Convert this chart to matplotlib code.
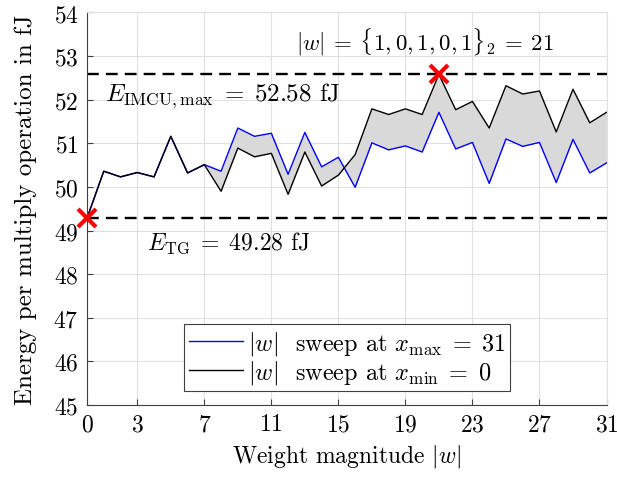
import matplotlib
matplotlib.use("Agg")
import matplotlib.pyplot as plt
import numpy as np

plt.rcParams["font.family"] = "serif"
plt.rcParams["font.serif"] = ["cmr10"]
plt.rcParams["mathtext.fontset"] = "cm"
plt.rcParams["axes.formatter.use_mathtext"] = True
plt.rcParams["font.size"] = 17

# weight magnitude |w|
w = list(range(32))
# energy per multiply at x_max = 31 (blue)
e_xmax = [49.28, 50.36, 50.23, 50.33, 50.23, 51.16, 50.32, 50.51,
          50.36, 51.35, 51.16, 51.23, 50.29, 51.25, 50.46, 50.68,
          49.99, 51.01, 50.85, 50.94, 50.80, 51.71, 50.87, 51.02,
          50.08, 51.10, 50.93, 51.02, 50.10, 51.09, 50.32, 50.55]
# energy per multiply at x_min = 0 (black)
e_xmin = [49.28, 50.36, 50.23, 50.33, 50.23, 51.16, 50.32, 50.51,
          49.90, 50.89, 50.69, 50.77, 49.83, 50.80, 50.02, 50.27,
          50.74, 51.79, 51.66, 51.79, 51.66, 52.58, 51.77, 51.96,
          51.35, 52.32, 52.13, 52.20, 51.26, 52.24, 51.47, 51.71]
e_max = 52.58
e_tg = 49.28
w_max = 21
xticks = [0, 3, 7, 11, 15, 19, 23, 27, 31]

fig = plt.figure(figsize=(6.17, 4.81), dpi=100)
ax = fig.add_axes([0.141, 0.156, 0.842, 0.816])

ax.grid(color="#e0e0e0", lw=0.8)
ax.set_axisbelow(True)
ax.fill_between(w, e_xmax, e_xmin, color="#d9d9d9", lw=0)
ax.plot(w, e_xmax, color="blue", lw=1.0,
        label=r"$|w|$  sweep at $x_{\max}\;=\;31$")
ax.plot(w, e_xmin, color="black", lw=1.0,
        label=r"$|w|$  sweep at $x_{\min}\;=\;0$")
ax.axhline(e_max, color="black", ls=(0, (5, 3)), lw=1.7)
ax.axhline(e_tg, color="black", ls=(0, (5, 3)), lw=1.7)
ax.plot([0, w_max], [e_tg, e_max], ls="none", marker="x", ms=13, mew=3,
        color="red", clip_on=False, zorder=5)

ax.text(1.07, 52.11, r"$E_{\mathrm{IMCU,max}}\;=\;52.58$ fJ", va="center", ha="left",
        fontsize=18)
ax.text(3.58, 48.74, r"$E_{\mathrm{TG}}\;=\;49.28$ fJ", va="center", ha="left")
ax.text(12.5, 53.35, r"$|w|\:=\:\{1,0,1,0,1\}_2\:=\:21$", va="center", ha="left",
        fontsize=16.5)

ax.set_xlim(0, 31)
ax.set_ylim(45, 54)
ax.set_xticks(xticks)
ax.set_yticks(range(45, 55))
ax.tick_params(direction="in", color="#404040", length=4, pad=6,
               top=False, right=False)
for s in ["top", "right"]:
    ax.spines[s].set_color("#e0e0e0")
for s in ["left", "bottom"]:
    ax.spines[s].set_color("#404040")
ax.set_xlabel(r"Weight magnitude $|w|$", labelpad=5)
ax.set_ylabel("Energy per multiply operation in fJ", fontsize=18, labelpad=12)

leg = ax.legend(loc="lower center", bbox_to_anchor=(0.501, 0.036), fancybox=False,
                framealpha=1, edgecolor="#404040", fontsize=17.5,
                handlelength=2.2, handletextpad=0.2, borderpad=0.2,
                labelspacing=0.05, borderaxespad=0)
leg.get_frame().set_linewidth(0.8)

fig.savefig("out.png", dpi=100)
